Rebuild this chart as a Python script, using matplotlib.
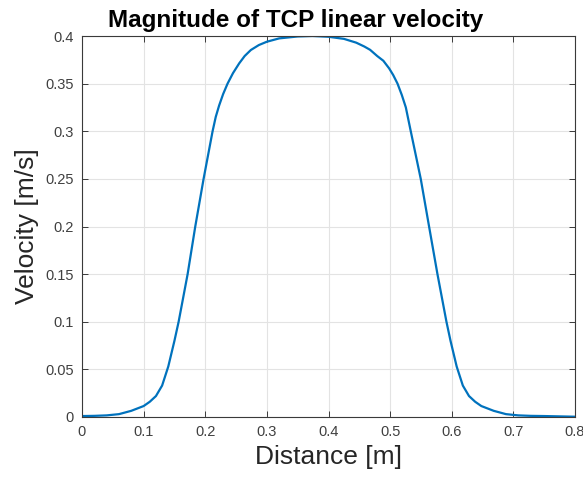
import matplotlib
matplotlib.use("Agg")
import matplotlib.pyplot as plt

# Werte
distance = [0.0, 0.02, 0.04, 0.06, 0.08, 0.09, 0.1, 0.11, 0.12, 0.13,
            0.14, 0.15, 0.1568, 0.1714, 0.1838, 0.1973, 0.2119, 0.217, 0.2225,
            0.229, 0.2362, 0.245, 0.2551, 0.264, 0.274, 0.287, 0.3, 0.32, 0.35,
            0.374, 0.4, 0.425, 0.445, 0.458, 0.4675, 0.479, 0.489, 0.4984, 0.505,
            0.512, 0.519, 0.5255, 0.5335, 0.5497, 0.5632, 0.5768, 0.5914, 0.598,
            0.608, 0.618, 0.628, 0.638, 0.648, 0.658, 0.668, 0.688, 0.708, 0.728,
            0.75, 0.8]
velocity = [0.001, 0.0012, 0.0017, 0.003, 0.0065, 0.009, 0.0115, 0.016, 0.022, 0.033,
            0.053, 0.08, 0.1, 0.15, 0.2, 0.25, 0.3, 0.315, 0.327,
            0.339, 0.35, 0.361, 0.3713, 0.379, 0.3853, 0.3905, 0.394, 0.3975, 0.3995,
            0.4, 0.3992, 0.397, 0.393, 0.389, 0.3855, 0.379, 0.374, 0.366, 0.359,
            0.35, 0.338, 0.325, 0.3, 0.25, 0.2, 0.15, 0.1, 0.08,
            0.053, 0.033, 0.022, 0.016, 0.0115, 0.009, 0.0065, 0.003, 0.0017, 0.0012,
            0.001, 0.0003]

x_ticks = [0, 0.1, 0.2, 0.3, 0.4, 0.5, 0.6, 0.7, 0.8]
x_labels = ["0", "0.1", "0.2", "0.3", "0.4", "0.5", "0.6", "0.7", "0.8"]
y_ticks = [0, 0.05, 0.1, 0.15, 0.2, 0.25, 0.3, 0.35, 0.4]
y_labels = ["0", "0.05", "0.1", "0.15", "0.2", "0.25", "0.3", "0.35", "0.4"]

plt.rcParams["font.family"] = ["Liberation Sans", "DejaVu Sans"]

MATLAB_BLUE = (0, 0.447, 0.741)
AXIS_GRAY = "#3a3a3a"

fig = plt.figure(figsize=(5.83, 4.8), dpi=100)
ax = fig.add_axes([82 / 583, 1 - 417 / 480, (575 - 82) / 583, (417 - 36) / 480])

ax.plot(distance, velocity, color=MATLAB_BLUE, linewidth=1.6,
        solid_joinstyle="round", solid_capstyle="round")

ax.set_xlim(0, 0.8)
ax.set_ylim(0, 0.4)
ax.set_xticks(x_ticks)
ax.set_xticklabels(x_labels)
ax.set_yticks(y_ticks)
ax.set_yticklabels(y_labels)

ax.grid(True, color="#e3e3e3", linewidth=0.8)
ax.set_axisbelow(True)
ax.tick_params(direction="in", top=True, right=True, length=4, width=0.7,
               colors=AXIS_GRAY, labelsize=10.5, labelcolor="#404040", pad=6)
for s in ax.spines.values():
    s.set_color(AXIS_GRAY)
    s.set_linewidth(0.8)

ax.set_xlabel("Distance [m]", fontsize=19, color="#262626", labelpad=4)
ax.set_ylabel("Velocity [m/s]", fontsize=19, color="#262626", labelpad=4)
fig.text(295.5 / 583, 1 - 27 / 480, "Magnitude of TCP linear velocity",
         fontsize=17.5, fontweight="bold", ha="center", va="baseline", color="black")

fig.savefig("out.png", dpi=100)
